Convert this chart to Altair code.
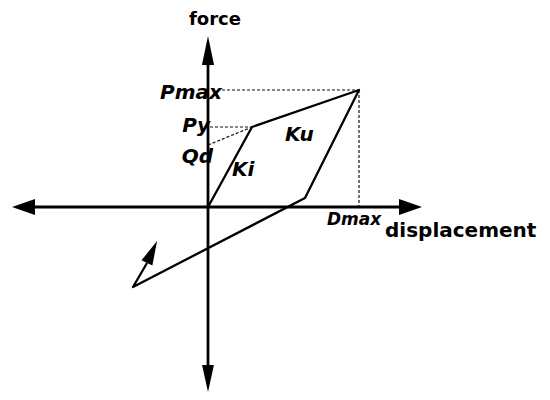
import altair as alt
import pandas as pd

# ---- values (drawing units, origin at the axes' crossing) ----
# hysteresis loop vertices: origin -> yield -> peak -> unload end -> reversal -> arrow base
loop_d = [0, 44, 151, 97, -75, -61]
loop_f = [0, 80, 117, 9, -80, -56]

# characteristic values
d_max = 151
p_max = 117
p_y = 80
q_d = 62
d_y = 44

# axis line extents
x_axis_ext = [-176, 193]
y_axis_ext = [-158, 144]

# dotted guide segments
guide_id = ["pmax", "pmax", "py", "py", "qd", "qd", "dmax", "dmax"]
guide_d = [14, d_max, 2, d_y, 0, d_y, d_max, d_max]
guide_f = [p_max, p_max, p_y, p_y, q_d, p_y, p_max, 0]

# arrow heads (centre, direction, length, half-width ratio)
arrow_d = [0, 0, -184.5, 202.5, -56]
arrow_f = [156.5, -171.5, 0, 0, -45]
arrow_angle = [0, 180, 270, 90, 25]
arrow_len = [29, 27, 23, 23, 24]
arrow_ratio = [0.42, 0.44, 0.7, 0.7, 0.5]

# text labels
label_text = ["force", "Pmax", "Py", "Qd", "Ki", "Ku", "Dmax", "displacement"]
label_d = [7, 14, 2, 5, 24, 77, 119, 177]
label_f = [182, 108, 75, 44, 31, 66, -18, -30]
label_align = ["center", "right", "right", "right", "left", "left", "left", "left"]
label_italic = [False, True, True, True, True, True, True, False]
label_size = [18, 20, 20, 20, 20, 20, 17, 20]

# ---- scales (one drawing unit = one pixel) ----
W, H = 534, 384
X_DOM = [-200, -200 + W]
Y_DOM = [199 - H, 199]
xs = alt.Scale(domain=X_DOM, nice=False, zero=False)
ys = alt.Scale(domain=Y_DOM, nice=False, zero=False)

def X(f="d"):
    return alt.X(f"{f}:Q", scale=xs, axis=None)

def Y(f="f"):
    return alt.Y(f"{f}:Q", scale=ys, axis=None)

# axes
axes_df = pd.DataFrame({
    "id": ["x", "x", "y", "y"],
    "d": [x_axis_ext[0], x_axis_ext[1], 0, 0],
    "f": [0, 0, y_axis_ext[0], y_axis_ext[1]],
    "o": [0, 1, 0, 1],
})
axes = alt.Chart(axes_df).mark_line(color="black", strokeWidth=2.8).encode(
    x=X(), y=Y(), detail="id:N", order="o:Q"
)

# loop
loop_df = pd.DataFrame({"d": loop_d, "f": loop_f, "o": list(range(len(loop_d)))})
loop = alt.Chart(loop_df).mark_line(color="black", strokeWidth=2.3, strokeJoin="round").encode(
    x=X(), y=Y(), order="o:Q"
)

# guides
guide_df = pd.DataFrame({"id": guide_id, "d": guide_d, "f": guide_f,
                         "o": list(range(len(guide_id)))})
guides = alt.Chart(guide_df).mark_line(color="#111111", strokeWidth=1.2,
                                       strokeDash=[3, 2]).encode(
    x=X(), y=Y(), detail="id:N", order="o:Q"
)

# arrow heads
arrow_df = pd.DataFrame({
    "d": arrow_d, "f": arrow_f, "angle": arrow_angle,
    "size": [l * l for l in arrow_len],
    "shape": [f"M0,-1L{r},1L{-r},1Z" for r in arrow_ratio],
})
arrows = alt.Chart(arrow_df).mark_point(filled=True, color="black", opacity=1,
                                        strokeWidth=0).encode(
    x=X(), y=Y(),
    angle=alt.Angle("angle:Q", scale=None),
    size=alt.Size("size:Q", scale=None),
    shape=alt.Shape("shape:N", scale=None),
)

# labels
label_df = pd.DataFrame({"t": label_text, "d": label_d, "f": label_f,
                         "al": label_align, "it": label_italic, "sz": label_size})
label_layers = []
for i in range(len(label_df)):
    row = label_df.iloc[[i]]
    label_layers.append(
        alt.Chart(row).mark_text(
            font="DejaVu Sans", fontWeight="bold",
            fontStyle="italic" if bool(row["it"].iloc[0]) else "normal",
            fontSize=float(row["sz"].iloc[0]),
            align=row["al"].iloc[0], baseline="alphabetic", color="black",
        ).encode(x=X(), y=Y(), text="t:N")
    )

chart = alt.layer(guides, axes, loop, arrows, *label_layers).properties(
    width=W, height=H,
    autosize=alt.AutoSizeParams(type="none"),
    padding=0,
    background="white",
).configure_view(stroke=None)

chart.save("out.html", embed_options={"renderer": "svg", "actions": False})
